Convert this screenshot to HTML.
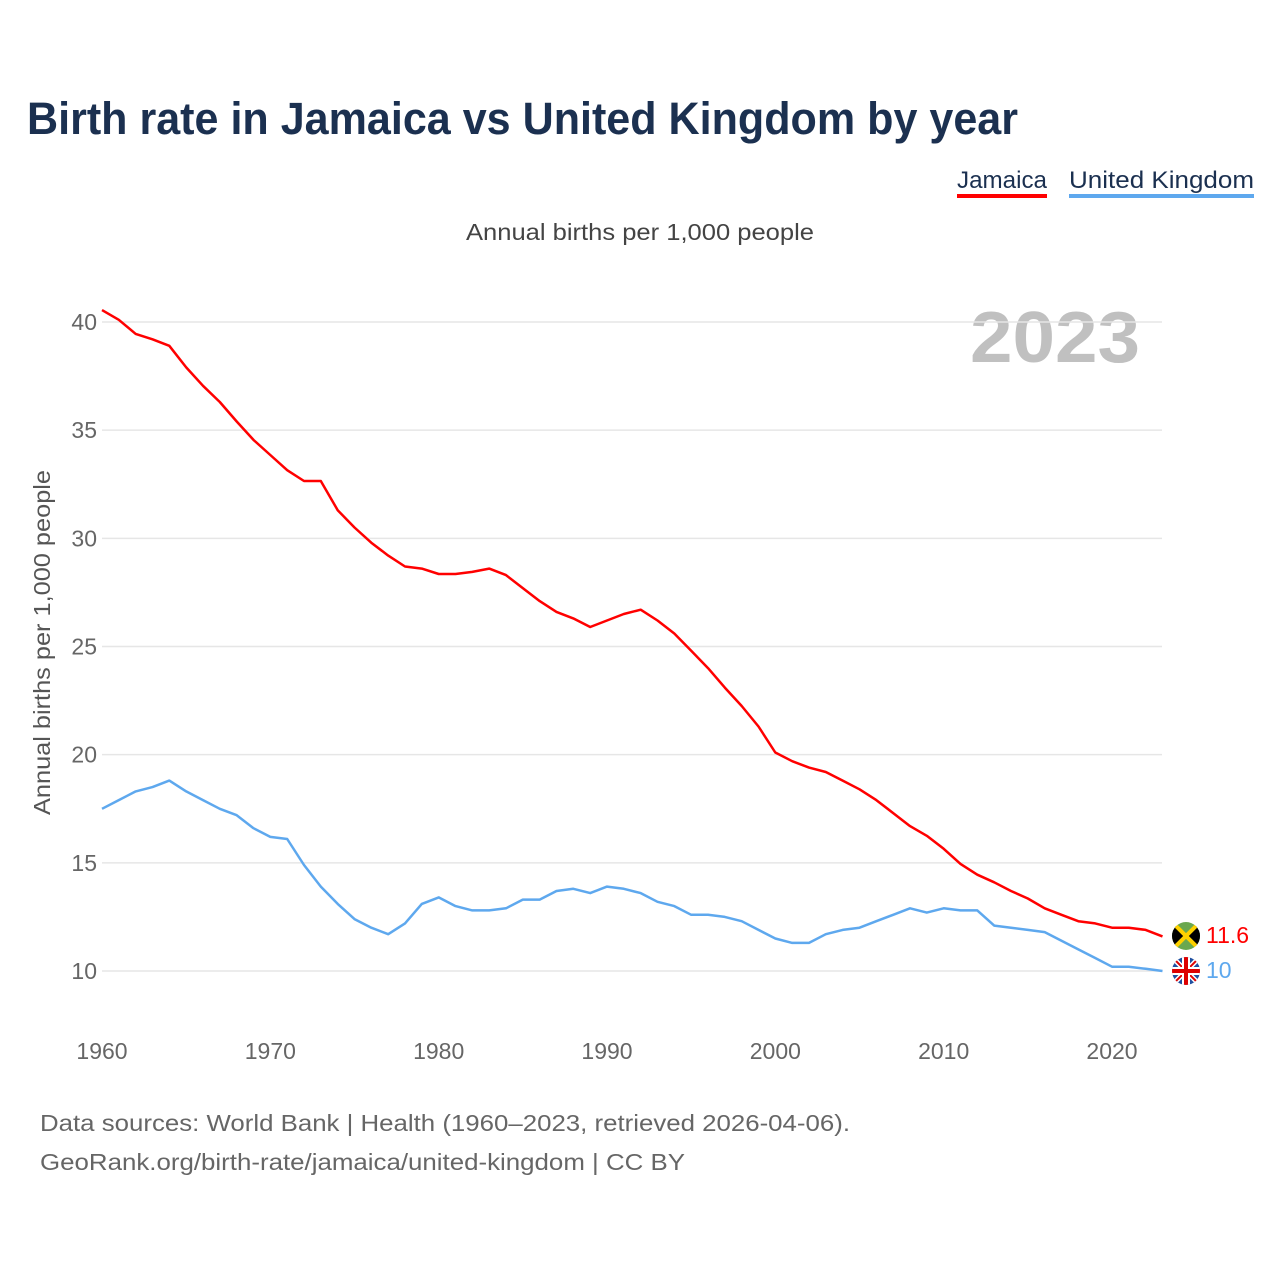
<!DOCTYPE html>
<html><head><meta charset="utf-8"><style>
body{margin:0;background:#fff;font-family:"Liberation Sans",sans-serif;}
svg text{font-family:"Liberation Sans",sans-serif;}
</style></head><body>
<svg id="chart" width="1280" height="1280" viewBox="0 0 1280 1280">
<text x="27" y="134" font-size="45" font-weight="bold" fill="#1b3050" textLength="991" lengthAdjust="spacingAndGlyphs">Birth rate in Jamaica vs United Kingdom by year</text>
<g><text x="957" y="188" font-size="24" fill="#1b3050" textLength="90" lengthAdjust="spacingAndGlyphs">Jamaica</text><rect x="957" y="194" width="90" height="4" fill="#ff0000"/></g>
<g><text x="1069" y="188" font-size="24" fill="#1b3050" textLength="185" lengthAdjust="spacingAndGlyphs">United Kingdom</text><rect x="1069" y="194" width="185" height="4" fill="#5ea8ee"/></g>
<text x="466" y="240" font-size="23" fill="#444" textLength="348" lengthAdjust="spacingAndGlyphs">Annual births per 1,000 people</text>
<text x="970" y="362" font-size="72" font-weight="bold" fill="#c0c0c0" textLength="170" lengthAdjust="spacingAndGlyphs">2023</text>
<text transform="translate(50,815) rotate(-90)" font-size="23" fill="#555" textLength="345" lengthAdjust="spacingAndGlyphs">Annual births per 1,000 people</text>
<g id="grid"></g><g id="yt"></g><g id="xt"></g><g id="lines"></g>
<g>
<clipPath id="cj"><circle cx="1186" cy="936" r="14"/></clipPath>
<g clip-path="url(#cj)"><rect x="1172" y="922" width="28" height="28" fill="#6aa84f"/><polygon points="1172,922 1186,936 1172,950" fill="#000"/><polygon points="1200,922 1186,936 1200,950" fill="#000"/><line x1="1172" y1="922" x2="1200" y2="950" stroke="#fed100" stroke-width="4"/><line x1="1200" y1="922" x2="1172" y2="950" stroke="#fed100" stroke-width="4"/></g></g>
<g>
<clipPath id="cu"><circle cx="1186" cy="971" r="14"/></clipPath>
<g clip-path="url(#cu)"><rect x="1172" y="957" width="28" height="28" fill="#1f4fa0"/><line x1="1172" y1="957" x2="1200" y2="985" stroke="#fff" stroke-width="5"/><line x1="1200" y1="957" x2="1172" y2="985" stroke="#fff" stroke-width="5"/><line x1="1172" y1="957" x2="1200" y2="985" stroke="#d00" stroke-width="2"/><line x1="1200" y1="957" x2="1172" y2="985" stroke="#d00" stroke-width="2"/><rect x="1172" y="967" width="28" height="8" fill="#fff"/><rect x="1182" y="957" width="8" height="28" fill="#fff"/><rect x="1172" y="969" width="28" height="4" fill="#d00"/><rect x="1184" y="957" width="4" height="28" fill="#d00"/></g></g>
<text x="1206" y="943" font-size="23" fill="#ff0000">11.6</text>
<text x="1206" y="978" font-size="23" fill="#5ea8ee">10</text>
<text x="40" y="1131" font-size="23" fill="#666" textLength="810" lengthAdjust="spacingAndGlyphs">Data sources: World Bank | Health (1960–2023, retrieved 2026-04-06).</text>
<text x="40" y="1170" font-size="23" fill="#666" textLength="645" lengthAdjust="spacingAndGlyphs">GeoRank.org/birth-rate/jamaica/united-kingdom | CC BY</text>
</svg>
<script>
const years=[];for(let y=1960;y<=2023;y++)years.push(y);
const jamaica=[40.55,40.1,39.45,39.2,38.9,37.9,37.05,36.3,35.4,34.55,33.85,33.15,32.65,32.65,31.3,30.5,29.8,29.2,28.7,28.6,28.35,28.35,28.45,28.6,28.3,27.7,27.1,26.6,26.3,25.9,26.2,26.5,26.7,26.2,25.6,24.8,24.0,23.1,22.25,21.3,20.1,19.7,19.4,19.2,18.8,18.4,17.9,17.3,16.7,16.25,15.65,14.95,14.45,14.1,13.7,13.35,12.9,12.6,12.3,12.2,12.0,12.0,11.9,11.6];
const uk=[17.5,17.9,18.3,18.5,18.8,18.3,17.9,17.5,17.2,16.6,16.2,16.1,14.9,13.9,13.1,12.4,12.0,11.7,12.2,13.1,13.4,13.0,12.8,12.8,12.9,13.3,13.3,13.7,13.8,13.6,13.9,13.8,13.6,13.2,13.0,12.6,12.6,12.5,12.3,11.9,11.5,11.3,11.3,11.7,11.9,12.0,12.3,12.6,12.9,12.7,12.9,12.8,12.8,12.1,12.0,11.9,11.8,11.4,11.0,10.6,10.2,10.2,10.1,10.0];
const yTicks=[10,15,20,25,30,35,40];
const xTicks=[1960,1970,1980,1990,2000,2010,2020];
const NS="http://www.w3.org/2000/svg";
const X=v=>102+(v-1960)*(1010/60);
const Y=v=>971-(v-10)*(649/30);
function mk(t,a,p){const e=document.createElementNS(NS,t);for(const k in a)e.setAttribute(k,a[k]);p.appendChild(e);return e;}
const g=document.getElementById('grid'),yt=document.getElementById('yt'),xt=document.getElementById('xt'),ln=document.getElementById('lines');
yTicks.forEach(v=>{
const l=mk('line',{x1:102,x2:1162,y1:Y(v),y2:Y(v),stroke:'#e6e6e6','stroke-width':1.5},g);


const t=mk('text',{x:97,y:Y(v)+8,'font-size':23,fill:'#666','text-anchor':'end'},yt);t.textContent=v;


});
xTicks.forEach(v=>{
const t=mk('text',{x:X(v),y:1059,'font-size':23,fill:'#666','text-anchor':'middle'},xt);t.textContent=v;


});
function line(d,c,n){const p=mk('path',{d:d.map((v,i)=>(i?'L':'M')+X(years[i]).toFixed(1)+','+Y(v).toFixed(1)).join(''),fill:'none',stroke:c,'stroke-width':2.5,'stroke-linejoin':'round'},ln);

}
line(uk,'#5ea8ee','uk-line');
line(jamaica,'#ff0000','jamaica-line');
</script>
</body></html>
